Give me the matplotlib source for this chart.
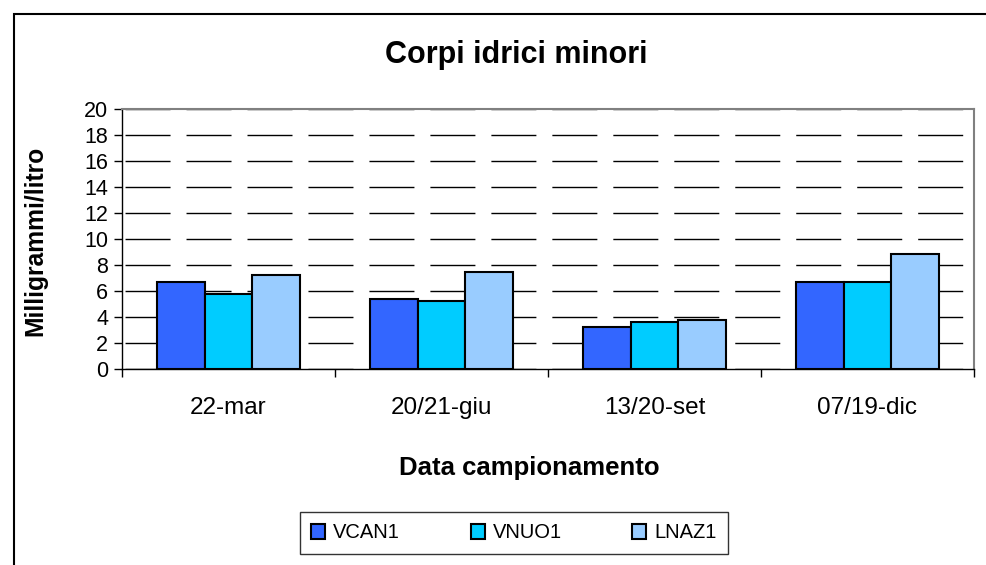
import matplotlib
matplotlib.use("Agg")
import matplotlib.pyplot as plt
import numpy as np
from matplotlib.patches import Rectangle

plt.rcParams["font.family"] = ["Liberation Sans", "DejaVu Sans"]
plt.rcParams["lines.scale_dashes"] = False

categories = ["22-mar", "20/21-giu", "13/20-set", "07/19-dic"]
series_names = ["VCAN1", "VNUO1", "LNAZ1"]
vcan1 = [6.7, 5.35, 3.2, 6.7]
vnuo1 = [5.8, 5.2, 3.65, 6.7]
lnaz1 = [7.2, 7.45, 3.8, 8.85]
colors = ["#3366FF", "#00CCFF", "#99CCFF"]

W, H = 986, 565
fig = plt.figure(figsize=(W / 100, H / 100), dpi=100)
ax = fig.add_axes([122 / W, 1 - 369 / H, (974 - 122) / W, (369 - 109) / H])

# outer chart frame (right/bottom edges run off the image)
fig.patches.append(Rectangle((14 / W, -0.05), 1.2, 1 - 14 / H + 0.05,
                             transform=fig.transFigure, fill=False,
                             edgecolor="black", lw=1.5))

x = np.arange(len(categories))
width = 0.225
for i, (vals, name) in enumerate(zip([vcan1, vnuo1, lnaz1], series_names)):
    ax.bar(x + (i - 1) * width, vals, width=width, color=colors[i],
           edgecolor="black", linewidth=1.5, label=name, zorder=3)

ax.set_xlim(-0.5, len(categories) - 0.5)
ax.set_ylim(0, 20)
ax.set_yticks(range(0, 21, 2))
ax.set_xticks(x)
ax.set_xticklabels(categories, fontsize=17.5)
ax.set_xticks(np.arange(-0.5, len(categories)), minor=True)
ax.tick_params(axis="x", which="major", length=0, pad=20)
ax.tick_params(axis="x", which="minor", length=6, width=1, color="black")
ax.tick_params(axis="y", length=6, width=1, labelsize=15.5, pad=4)

# long black dashes, first dash a few px right of the axis
ax.yaxis.grid(True, color="black", lw=1, linestyle=(41.7, (32.4, 11.5)), zorder=0)
ax.set_axisbelow(True)

for s in ["top", "right"]:
    ax.spines[s].set_color("#808080")
    ax.spines[s].set_linewidth(1.5)
for s in ["left", "bottom"]:
    ax.spines[s].set_color("black")
    ax.spines[s].set_linewidth(1)

fig.text(516 / W, 1 - 55 / H, "Corpi idrici minori", ha="center", va="center",
         fontsize=22, fontweight="bold")
fig.text(35 / W, 1 - 241 / H, "Milligrammi/litro", ha="center", va="center",
         rotation=90, fontsize=17.7, fontweight="bold")
fig.text(529 / W, 1 - 468 / H, "Data campionamento", ha="center", va="center",
         fontsize=18.5, fontweight="bold")

leg = ax.legend(loc="center", bbox_to_anchor=(514 / W, 1 - 533 / H),
                bbox_transform=fig.transFigure, ncol=3, fontsize=14.5,
                frameon=True, fancybox=False, edgecolor="black",
                handlelength=0.7, handleheight=0.7, handletextpad=0.4,
                columnspacing=3.5, borderpad=0.55)
leg.get_frame().set_linewidth(1)

fig.savefig("out.png", dpi=100)
